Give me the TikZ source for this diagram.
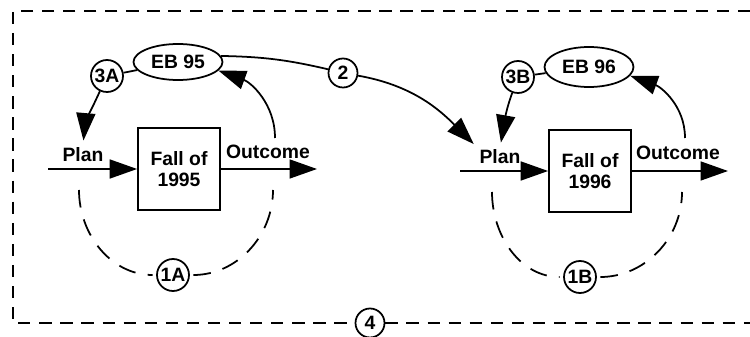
\documentclass[tikz,border=0pt]{standalone}
\usepackage{fontspec}
\setmainfont{Liberation Sans}
\usetikzlibrary{shapes.geometric,arrows.meta,positioning}

\begin{document}
\begin{tikzpicture}[
    x=0.02cm,y=-0.02cm,
    font=\fontsize{11}{12}\selectfont\bfseries,
    year/.style={draw,line width=1pt,minimum width=1.64cm,minimum height=1.64cm,
      align=center,inner sep=1pt},
    budget/.style={draw,ellipse,line width=1pt,minimum width=1.78cm,
      minimum height=0.72cm,inner sep=0pt},
    tag/.style={draw,circle,line width=1pt,minimum size=0.64cm,inner sep=0pt},
    lbl/.style={inner sep=1pt},
    flow/.style={-{Triangle[length=5.5mm,width=3.8mm]},line width=1pt},
    link/.style={line width=1pt},
    loop/.style={line width=1pt,dash pattern=on 10pt off 7pt},
    frame/.style={line width=1pt,dash pattern=on 7pt off 5pt}
  ]
  \useasboundingbox (0,0) rectangle (750,337);

  % 1995 cycle
  \node[year] (box95) at (179,169) {Fall of\\1995};
  \node[budget] (eb95) at (178,62) {EB 95};
  \node[tag] (c3A) at (107,76) {3A};
  \node[lbl] (plan95) at (83,155) {Plan};
  \node[lbl] (out95) at (268,152) {Outcome};
  \node[tag] (c1A) at (173,275) {1A};
  \coordinate (in95) at (48,169);
  \coordinate (end95) at (317,169);
  \coordinate (fb95) at (275,138);
  \coordinate (d95l) at (79,190);
  \coordinate (d95r) at (273,190);

  % 1996 cycle
  \node[year] (box96) at (590,171) {Fall of\\1996};
  \node[budget,minimum height=0.8cm] (eb96) at (589,67) {EB 96};
  \node[tag] (c3B) at (518,77) {3B};
  \node[lbl] (plan96) at (500,157) {Plan};
  \node[lbl] (out96) at (678,153) {Outcome};
  \node[tag] (c1B) at (580,277) {1B};
  \coordinate (in96) at (460,171);
  \coordinate (end96) at (728,171);
  \coordinate (fb96) at (685,138);
  \coordinate (d96l) at (492,192);
  \coordinate (d96r) at (682,192);

  \node[tag,minimum size=0.58cm] (c2) at (343,73) {2};
  \node[tag,minimum size=0.58cm,fill=white] (c4) at (370,323) {4};

  % flows
  \draw[flow] (in95) -- (box95.west);
  \draw[flow] (box95.east) -- (end95);
  \draw[flow] (fb95) to[out=90,in=-20] (eb95.-12);
  \draw[link] (c3A) -- (eb95);
  \draw[flow,shorten >=3pt] (c3A) to[out=-115,in=85] (plan95.north);
  \draw[loop,shorten >=2pt] (d95l) to[out=-90,in=180] (c1A);
  \draw[loop,shorten <=2pt] (c1A) to[out=0,in=-90] (d95r);

  \draw[flow] (in96) -- (box96.west);
  \draw[flow] (box96.east) -- (end96);
  \draw[flow] (fb96) to[out=90,in=-20] (eb96.-12);
  \draw[link] (c3B) -- (eb96);
  \draw[flow,shorten >=3pt] (c3B) to[out=-110,in=80] (plan96.north);
  \draw[loop,shorten >=2pt] (d96l) to[out=-90,in=180] (c1B);
  \draw[loop,shorten <=2pt] (c1B) to[out=0,in=-90] (d96r);

  % carry over between years
  \draw[link] (eb95.8) to[bend left=6] (c2);
  \draw[flow,shorten >=3pt] (c2) to[out=-10,in=135] (plan96.north west);

  % outer frame
  \coordinate (fTR) at (750,11);
  \coordinate (fTL) at (13,11);
  \coordinate (fBL) at (13,323);
  \coordinate (fBR) at (750,323);
  \draw[frame] (fTR) -- (fTL) -- (fBL) -- (c4);
  \draw[frame] (c4) -- (fBR);
\end{tikzpicture}
\end{document}
